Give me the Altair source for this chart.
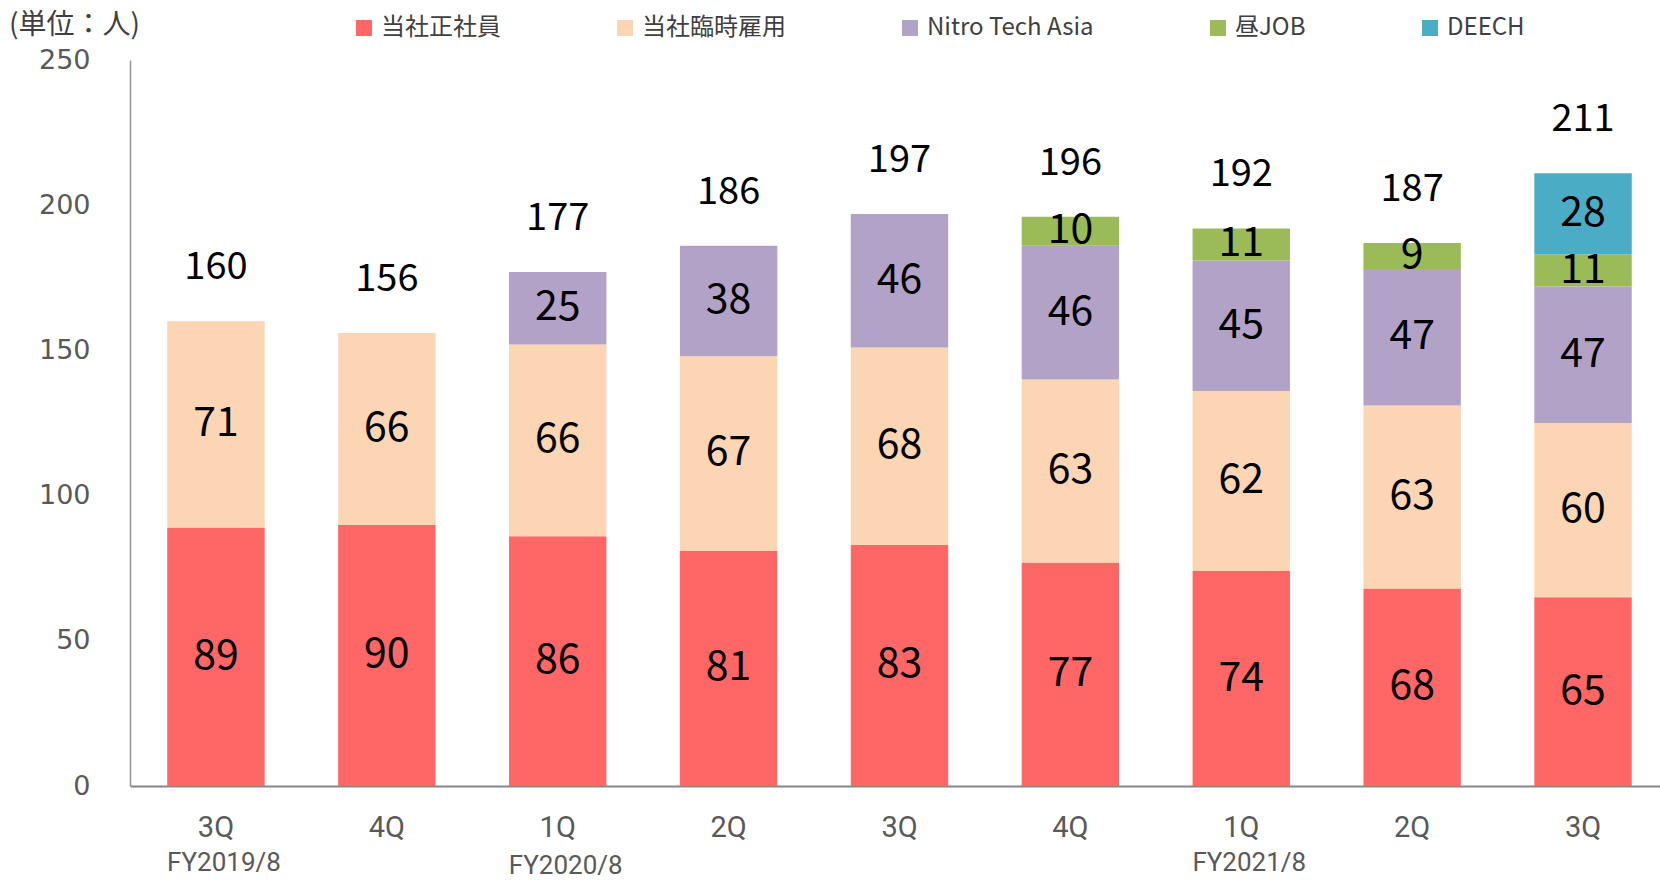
import altair as alt
import pandas as pd

# ---- data ----
keys = ["FY2019/8|3Q", "FY2019/8|4Q", "FY2020/8|1Q", "FY2020/8|2Q", "FY2020/8|3Q",
        "FY2020/8|4Q", "FY2021/8|1Q", "FY2021/8|2Q", "FY2021/8|3Q"]
series_names = ["当社正社員", "当社臨時雇用", "Nitro Tech Asia", "昼JOB", "DEECH"]
series_colors = ["#FF6666", "#FCD5B5", "#B3A2C7", "#9BBB59", "#4BACC6"]
seishain = [89, 90, 86, 81, 83, 77, 74, 68, 65]
rinji = [71, 66, 66, 67, 68, 63, 62, 63, 60]
nta = [0, 0, 25, 38, 46, 46, 45, 47, 47]
hirujob = [0, 0, 0, 0, 0, 10, 11, 9, 11]
deech = [0, 0, 0, 0, 0, 0, 0, 0, 28]
totals = [160, 156, 177, 186, 197, 196, 192, 187, 211]
fy_keys = ["FY2019/8|3Q", "FY2020/8|1Q", "FY2021/8|1Q"]
fy_labels = ["FY2019/8", "FY2020/8", "FY2021/8"]
y_ticks = [0, 50, 100, 150, 200, 250]
unit_label = "(単位：人)"

rows = []
for s_i, (name, vals) in enumerate(zip(series_names, [seishain, rinji, nta, hirujob, deech])):
    for k, v in zip(keys, vals):
        if v > 0:
            rows.append({"key": k, "series": name, "value": v, "order": s_i})
df = pd.DataFrame(rows)
tot_df = pd.DataFrame({"key": keys, "total": totals})
fy_df = pd.DataFrame({"key": fy_keys, "fy": fy_labels})

W, H = 1530, 726
JP = "Noto Sans CJK JP"
LAT = "Roboto"

x_scale = alt.Scale(domain=keys, paddingInner=0.43, paddingOuter=0.218, range=[0, 1539])
y_scale = alt.Scale(domain=[0, 250], nice=False)

x_axis = alt.Axis(title=None, labelExpr="split(datum.label, '|')[1]", labelAngle=0,
                  ticks=False, grid=False, domainColor="#868686", domainWidth=2,
                  labelFont=LAT, labelFontSize=29, labelColor="#595959", labelPadding=27)
y_axis = alt.Axis(title=None, values=y_ticks, ticks=False, grid=False,
                  domainColor="#969696", domainWidth=1.5, labelFont="DejaVu Sans",
                  labelFontSize=27, labelColor="#595959", labelPadding=40)

X = alt.X("key:N", scale=x_scale, sort=keys, axis=x_axis)

bars = alt.Chart(df).mark_bar().encode(
    x=X,
    y=alt.Y("value:Q", stack="zero", scale=y_scale, axis=y_axis),
    color=alt.Color("series:N", scale=alt.Scale(domain=series_names, range=series_colors),
                    legend=alt.Legend(title=None, orient="none", legendX=222, legendY=-44,
                                      direction="horizontal", columns=5,
                                      symbolType="square", symbolSize=256,
                                      symbolStrokeWidth=0, labelFontSize=24,
                                      labelFont=JP, labelColor="#404040",
                                      labelLimit=400, columnPadding=112, labelOffset=5)),
    order=alt.Order("order:Q", sort="ascending"),
)

seg = alt.Chart(df).transform_stack(
    stack="value", groupby=["key"], as_=["y0", "y1"],
    sort=[alt.SortField("order", order="ascending")]
).transform_calculate(mid="(datum.y0 + datum.y1) / 2").mark_text(
    font=JP, fontSize=41, color="black", baseline="middle"
).encode(x=X, y=alt.Y("mid:Q", scale=y_scale, axis=y_axis), text="value:Q")

tot = alt.Chart(tot_df).mark_text(
    font=JP, fontSize=38, color="black", baseline="middle", dy=-53
).encode(x=X, y=alt.Y("total:Q", scale=y_scale, axis=y_axis), text="total:Q")

fy_a = alt.Chart(fy_df).transform_filter("datum.fy != 'FY2020/8'").mark_text(
    font=LAT, fontSize=26, color="#595959", baseline="middle", dx=8
).encode(x=X, y=alt.value(H + 77), text="fy:N")

fy_b = alt.Chart(fy_df).transform_filter("datum.fy == 'FY2020/8'").mark_text(
    font=LAT, fontSize=26, color="#595959", baseline="middle", dx=8
).encode(x=X, y=alt.value(H + 80), text="fy:N")

unit = alt.Chart(pd.DataFrame({"t": [unit_label]})).mark_text(
    font=JP, fontSize=28, color="#404040", align="left", baseline="middle"
).encode(x=alt.value(-121), y=alt.value(-34), text="t:N")

chart = alt.layer(bars, seg, tot, fy_a, fy_b, unit).properties(
    width=W, height=H,
    padding={"left": 130, "top": 60, "right": 0, "bottom": 96},
    autosize=alt.AutoSizeParams(type="none"),
).configure_view(stroke=None)

chart.save("out.html", embed_options={"renderer": "svg", "actions": False})
